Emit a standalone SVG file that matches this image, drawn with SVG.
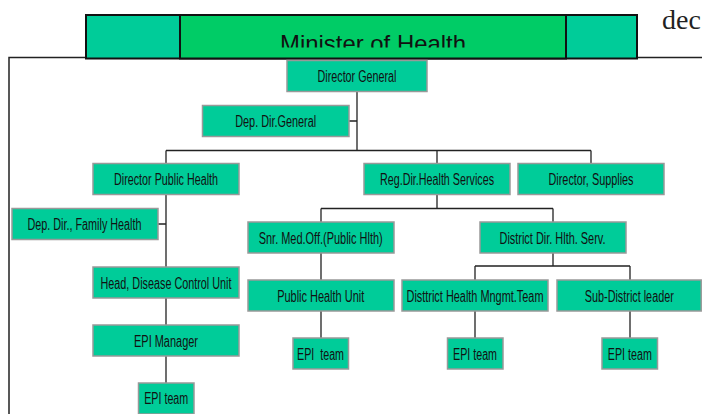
<svg xmlns="http://www.w3.org/2000/svg" width="702" height="414" viewBox="0 0 702 414">
<style>
.box{fill:#00CC99;stroke:#999;stroke-width:1.5}
.lbl{font-family:"Liberation Sans",Arial,sans-serif;font-size:16px;fill:#111;text-anchor:middle}
.ln{fill:none;stroke:#222;stroke-width:1.3}
</style>
<defs>
<clipPath id="titleclip"><rect x="180" y="15" width="386" height="32.5"/></clipPath>
</defs>
<rect width="702" height="414" fill="#fff"/>
<g id="frame">
<path d="M9,414 V57.5 H86 M637,57.5 H702" fill="none" stroke="#222" stroke-width="1.5"/>
</g>
<g id="minister">
<rect x="86" y="15" width="551" height="43.5" fill="#00CC99" stroke="#111" stroke-width="2"/>
<rect x="180" y="15" width="386" height="43.5" fill="#00CC66" stroke="#111" stroke-width="2"/>
<text x="373" y="52" clip-path="url(#titleclip)" font-family="Liberation Sans,Arial,sans-serif" font-size="24" fill="#111" text-anchor="middle" textLength="186" lengthAdjust="spacingAndGlyphs">Minister of Health</text>
</g>
<text x="662" y="28.5" font-family="Liberation Serif,Times New Roman,serif" font-size="28" fill="#222">dec</text>
<g id="connectors">
<path class="ln" d="M357,91.5 V150.5 M349,121 H357 M166,150.5 H591 M166,150.5 V163.5 M437,150.5 V163.5 M591,150.5 V163.5"/>
<path class="ln" d="M166,194.5 V267 M158,224 H166 M166,298 V325 M166,356 V383"/>
<path class="ln" d="M437,194.5 V208.5 M321,208.5 H553 M321,208.5 V222 M553,208.5 V222"/>
<path class="ln" d="M321,253 V280 M321,311 V338"/>
<path class="ln" d="M553,253 V266 M475,266 H630 M475,266 V280 M630,266 V280 M475,311 V338 M630,311 V338"/>
</g>
<g id="dg"><rect class="box" x="287" y="60.5" width="140" height="31"/><text class="lbl" x="357" y="82" textLength="79" lengthAdjust="spacingAndGlyphs">Director General</text></g>
<g id="ddg"><rect class="box" x="202.5" y="105.5" width="146.5" height="31"/><text class="lbl" x="275.7" y="127" textLength="81" lengthAdjust="spacingAndGlyphs">Dep. Dir.General</text></g>
<g id="dph"><rect class="box" x="93" y="163.5" width="146" height="31"/><text class="lbl" x="166" y="185" textLength="104" lengthAdjust="spacingAndGlyphs">Director Public Health</text></g>
<g id="rdhs"><rect class="box" x="364" y="163.5" width="146" height="31"/><text class="lbl" x="437" y="185" textLength="114" lengthAdjust="spacingAndGlyphs">Reg.Dir.Health Services</text></g>
<g id="dsup"><rect class="box" x="518" y="163.5" width="146" height="31"/><text class="lbl" x="591" y="185" textLength="85" lengthAdjust="spacingAndGlyphs">Director, Supplies</text></g>
<g id="ddfh"><rect class="box" x="12" y="208.5" width="146" height="31"/><text class="lbl" x="84.5" y="230" textLength="114" lengthAdjust="spacingAndGlyphs">Dep. Dir., Family Health</text></g>
<g id="snr"><rect class="box" x="248" y="222" width="146" height="31"/><text class="lbl" x="320.7" y="243.5" textLength="124" lengthAdjust="spacingAndGlyphs">Snr. Med.Off.(Public Hlth)</text></g>
<g id="ddhs"><rect class="box" x="480" y="222" width="146" height="31"/><text class="lbl" x="552.5" y="243.5" textLength="106" lengthAdjust="spacingAndGlyphs">District Dir. Hlth. Serv.</text></g>
<g id="hdcu"><rect class="box" x="93" y="267" width="146" height="31"/><text class="lbl" x="166" y="288.5" textLength="131" lengthAdjust="spacingAndGlyphs">Head, Disease Control Unit</text></g>
<g id="phu"><rect class="box" x="248" y="280" width="146" height="31"/><text class="lbl" x="320.7" y="301.5" textLength="87" lengthAdjust="spacingAndGlyphs">Public Health Unit</text></g>
<g id="dhmt"><rect class="box" x="402" y="280" width="146" height="31"/><text class="lbl" x="475" y="301.5" textLength="137" lengthAdjust="spacingAndGlyphs">Disttrict Health Mngmt.Team</text></g>
<g id="sdl"><rect class="box" x="557" y="280" width="144.2" height="31"/><text class="lbl" x="629.3" y="301.5" textLength="89" lengthAdjust="spacingAndGlyphs">Sub-District leader</text></g>
<g id="epim"><rect class="box" x="93" y="325" width="146" height="31"/><text class="lbl" x="166" y="346.5" textLength="64" lengthAdjust="spacingAndGlyphs">EPI Manager</text></g>
<g id="epi1"><rect class="box" x="138.5" y="383" width="55.5" height="31"/><text class="lbl" x="166.2" y="404" textLength="44" lengthAdjust="spacingAndGlyphs">EPI team</text></g>
<g id="epi2"><rect class="box" x="293" y="338" width="55.5" height="31"/><text class="lbl" x="320.5" y="359.5" textLength="47" lengthAdjust="spacingAndGlyphs" xml:space="preserve">EPI  team</text></g>
<g id="epi3"><rect class="box" x="447.5" y="338" width="55.5" height="31"/><text class="lbl" x="475" y="359.5" textLength="44" lengthAdjust="spacingAndGlyphs">EPI team</text></g>
<g id="epi4"><rect class="box" x="602" y="338" width="55.5" height="31"/><text class="lbl" x="629.8" y="359.5" textLength="44" lengthAdjust="spacingAndGlyphs">EPI team</text></g>
</svg>
